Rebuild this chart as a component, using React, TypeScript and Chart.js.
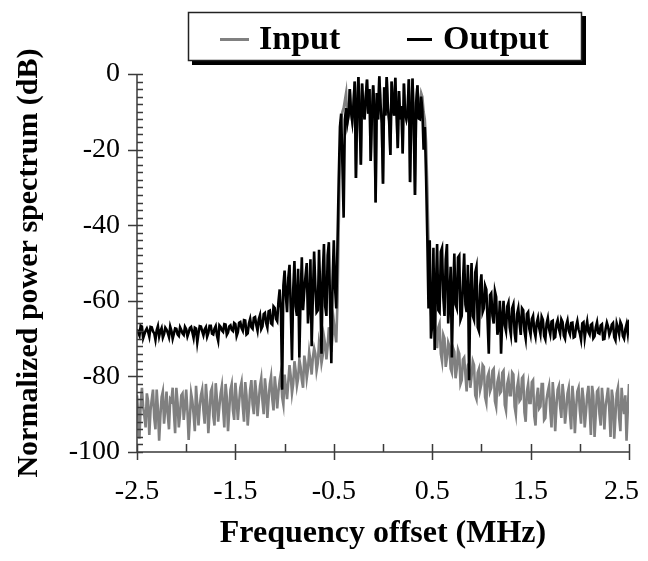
import React, { useEffect, useRef } from "react";
import { Chart, registerables } from "chart.js";

Chart.register(...registerables);

const FONT = "'Liberation Serif', 'Times New Roman', serif";

const freqMHz = [
  -2.5, -2.4875, -2.475, -2.4625, -2.45, -2.4375, -2.425, -2.4125, -2.4, -2.3875, -2.375, -2.3625, -2.35, -2.3375, -2.325, -2.3125, -2.3, -2.2875, -2.275, -2.2625,
  -2.25, -2.2375, -2.225, -2.2125, -2.2, -2.1875, -2.175, -2.1625, -2.15, -2.1375, -2.125, -2.1125, -2.1, -2.0875, -2.075, -2.0625, -2.05, -2.0375, -2.025, -2.0125,
  -2, -1.9875, -1.975, -1.9625, -1.95, -1.9375, -1.925, -1.9125, -1.9, -1.8875, -1.875, -1.8625, -1.85, -1.8375, -1.825, -1.8125, -1.8, -1.7875, -1.775, -1.7625,
  -1.75, -1.7375, -1.725, -1.7125, -1.7, -1.6875, -1.675, -1.6625, -1.65, -1.6375, -1.625, -1.6125, -1.6, -1.5875, -1.575, -1.5625, -1.55, -1.5375, -1.525, -1.5125,
  -1.5, -1.4875, -1.475, -1.4625, -1.45, -1.4375, -1.425, -1.4125, -1.4, -1.3875, -1.375, -1.3625, -1.35, -1.3375, -1.325, -1.3125, -1.3, -1.2875, -1.275, -1.2625,
  -1.25, -1.2375, -1.225, -1.2125, -1.2, -1.1875, -1.175, -1.1625, -1.15, -1.1375, -1.125, -1.1125, -1.1, -1.0875, -1.075, -1.0625, -1.05, -1.0375, -1.025, -1.0125,
  -1, -0.9875, -0.975, -0.9625, -0.95, -0.9375, -0.925, -0.9125, -0.9, -0.8875, -0.875, -0.8625, -0.85, -0.8375, -0.825, -0.8125, -0.8, -0.7875, -0.775, -0.7625,
  -0.75, -0.7375, -0.725, -0.7125, -0.7, -0.6875, -0.675, -0.6625, -0.65, -0.6375, -0.625, -0.6125, -0.6, -0.5875, -0.575, -0.5625, -0.55, -0.5375, -0.525, -0.5125,
  -0.5, -0.4875, -0.475, -0.4625, -0.45, -0.4375, -0.425, -0.4125, -0.4, -0.3875, -0.375, -0.3625, -0.35, -0.3375, -0.325, -0.3125, -0.3, -0.2875, -0.275, -0.2625,
  -0.25, -0.2375, -0.225, -0.2125, -0.2, -0.1875, -0.175, -0.1625, -0.15, -0.1375, -0.125, -0.1125, -0.1, -0.0875, -0.075, -0.0625, -0.05, -0.0375, -0.025, -0.0125,
  0, 0.0125, 0.025, 0.0375, 0.05, 0.0625, 0.075, 0.0875, 0.1, 0.1125, 0.125, 0.1375, 0.15, 0.1625, 0.175, 0.1875, 0.2, 0.2125, 0.225, 0.2375,
  0.25, 0.2625, 0.275, 0.2875, 0.3, 0.3125, 0.325, 0.3375, 0.35, 0.3625, 0.375, 0.3875, 0.4, 0.4125, 0.425, 0.4375, 0.45, 0.4625, 0.475, 0.4875,
  0.5, 0.5125, 0.525, 0.5375, 0.55, 0.5625, 0.575, 0.5875, 0.6, 0.6125, 0.625, 0.6375, 0.65, 0.6625, 0.675, 0.6875, 0.7, 0.7125, 0.725, 0.7375,
  0.75, 0.7625, 0.775, 0.7875, 0.8, 0.8125, 0.825, 0.8375, 0.85, 0.8625, 0.875, 0.8875, 0.9, 0.9125, 0.925, 0.9375, 0.95, 0.9625, 0.975, 0.9875,
  1, 1.0125, 1.025, 1.0375, 1.05, 1.0625, 1.075, 1.0875, 1.1, 1.1125, 1.125, 1.1375, 1.15, 1.1625, 1.175, 1.1875, 1.2, 1.2125, 1.225, 1.2375,
  1.25, 1.2625, 1.275, 1.2875, 1.3, 1.3125, 1.325, 1.3375, 1.35, 1.3625, 1.375, 1.3875, 1.4, 1.4125, 1.425, 1.4375, 1.45, 1.4625, 1.475, 1.4875,
  1.5, 1.5125, 1.525, 1.5375, 1.55, 1.5625, 1.575, 1.5875, 1.6, 1.6125, 1.625, 1.6375, 1.65, 1.6625, 1.675, 1.6875, 1.7, 1.7125, 1.725, 1.7375,
  1.75, 1.7625, 1.775, 1.7875, 1.8, 1.8125, 1.825, 1.8375, 1.85, 1.8625, 1.875, 1.8875, 1.9, 1.9125, 1.925, 1.9375, 1.95, 1.9625, 1.975, 1.9875,
  2, 2.0125, 2.025, 2.0375, 2.05, 2.0625, 2.075, 2.0875, 2.1, 2.1125, 2.125, 2.1375, 2.15, 2.1625, 2.175, 2.1875, 2.2, 2.2125, 2.225, 2.2375,
  2.25, 2.2625, 2.275, 2.2875, 2.3, 2.3125, 2.325, 2.3375, 2.35, 2.3625, 2.375, 2.3875, 2.4, 2.4125, 2.425, 2.4375, 2.45, 2.4625, 2.475, 2.4875,
  2.5,
];

const inputDb = [
  -85.0, -90.0, -96.5, -87.5, -83.0, -88.0, -90.5, -93.5, -84.5, -86.5, -95.5, -89.0, -86.0, -83.5, -91.0, -94.0, -83.5, -88.5, -97.0, -90.5,
  -85.5, -84.0, -92.5, -88.5, -84.0, -90.0, -94.0, -86.0, -86.5, -83.0, -89.5, -95.0, -83.0, -87.0, -93.5, -90.0, -85.0, -84.5, -91.5, -88.0,
  -83.5, -89.0, -96.8, -91.0, -84.5, -86.5, -90.0, -94.5, -82.5, -87.5, -93.0, -88.0, -85.0, -83.5, -89.0, -92.5, -82.0, -86.5, -95.0, -89.5,
  -84.0, -83.0, -90.5, -93.0, -81.8, -86.0, -92.0, -88.0, -84.5, -82.5, -88.5, -93.5, -82.0, -85.5, -94.5, -89.0, -83.5, -82.0, -89.0, -91.5,
  -81.7, -86.0, -91.5, -87.0, -83.0, -81.5, -88.0, -92.0, -81.5, -85.0, -93.0, -88.5, -83.5, -81.0, -87.5, -90.0, -81.0, -84.5, -90.5, -86.5,
  -82.5, -80.5, -86.5, -90.0, -80.5, -84.0, -91.0, -86.0, -82.0, -80.0, -86.0, -89.0, -80.0, -83.5, -88.5, -84.0, -81.0, -79.0, -85.5, -87.5,
  -79.5, -83.0, -86.0, -81.5, -77.0, -80.0, -84.5, -82.0, -76.0, -78.5, -82.5, -80.5, -75.5, -77.5, -81.0, -83.0, -74.5, -76.5, -80.5, -78.0,
  -73.5, -76.0, -79.5, -75.0, -72.5, -74.0, -78.5, -76.5, -71.0, -73.0, -76.5, -74.5, -69.5, -71.5, -75.5, -72.0, -67.0, -70.0, -73.5, -69.0,
  -65.5, -68.5, -71.0, -60.0, -40.0, -22.0, -12.0, -10.0, -9.0, -7.0, -5.0, -13.0, -11.0, -4.0, -10.0, -12.5, -8.0, -2.0, -27.5, -9.0,
  -0.8, -11.5, -24.0, -2.5, -9.0, -12.0, -6.0, -1.5, -10.5, -4.0, -23.0, -11.0, -3.0, -9.5, -34.0, -5.0, -12.0, -0.6, -8.0, -13.0,
  -29.0, -3.5, -11.0, -0.8, -9.0, -12.5, -21.4, -2.0, -8.5, -11.0, -1.0, -10.0, -19.6, -4.5, -12.0, -8.5, -21.0, -2.5, -10.5, -12.0,
  -10.0, -1.4, -28.6, -11.0, -1.2, -13.0, -32.0, -7.5, -3.0, -11.8, -8.0, -5.0, -6.0, -10.0, -12.0, -18.0, -30.0, -45.0, -56.0, -63.0,
  -68.0, -64.0, -62.0, -70.0, -72.5, -67.0, -66.0, -74.0, -76.0, -69.0, -70.0, -77.5, -75.0, -71.0, -72.0, -78.0, -79.0, -72.5, -73.5, -80.5,
  -78.0, -73.0, -74.0, -82.0, -81.0, -75.5, -75.0, -79.5, -84.0, -77.0, -76.5, -83.0, -80.0, -76.0, -77.0, -85.0, -86.0, -79.0, -78.0, -83.5,
  -82.0, -77.0, -77.5, -85.5, -87.0, -80.0, -79.0, -84.0, -83.0, -78.5, -78.0, -86.5, -88.0, -81.5, -80.0, -84.5, -84.0, -79.0, -78.5, -87.5,
  -89.0, -82.0, -80.5, -85.0, -85.0, -79.0, -79.5, -88.0, -90.0, -83.0, -81.0, -86.5, -86.0, -80.5, -80.0, -89.5, -92.0, -84.0, -82.0, -87.0,
  -87.0, -81.5, -81.0, -90.5, -93.0, -85.5, -83.0, -88.5, -88.0, -82.0, -82.0, -91.5, -91.0, -86.0, -84.0, -82.5, -89.0, -93.5, -81.5, -86.0,
  -94.5, -88.0, -83.5, -82.5, -88.0, -91.0, -82.0, -85.5, -92.5, -89.0, -84.5, -83.0, -90.0, -94.0, -82.5, -86.5, -95.0, -88.5, -84.0, -83.0,
  -89.0, -92.5, -83.0, -86.0, -93.5, -89.5, -85.0, -82.5, -88.5, -95.5, -82.5, -85.0, -96.0, -90.0, -84.0, -83.5, -90.0, -93.0, -83.0, -87.0,
  -94.0, -88.0, -85.5, -83.0, -89.0, -96.0, -83.5, -86.0, -96.5, -90.5, -84.5, -83.0, -91.0, -94.5, -83.0, -87.5, -90.0, -85.0, -97.0, -89.0,
  -82.0,
];

const outputDb = [
  -67.5, -68.4, -69.2, -66.6, -66.8, -69.9, -68.9, -67.9, -67.3, -68.2, -69.5, -66.9, -67.0, -68.1, -68.6, -70.3, -67.8, -66.7, -69.4, -68.0,
  -67.2, -69.7, -68.8, -67.1, -67.6, -68.5, -69.6, -66.8, -67.9, -70.0, -68.7, -67.3, -67.4, -68.9, -69.3, -67.0, -67.7, -68.6, -69.0, -66.9,
  -67.5, -69.4, -68.4, -67.2, -66.9, -68.3, -69.8, -67.1, -67.3, -71.0, -68.6, -66.7, -66.8, -68.0, -69.1, -67.6, -67.0, -69.5, -68.5, -66.6,
  -66.6, -68.7, -68.9, -67.4, -66.7, -69.2, -70.6, -66.5, -66.9, -67.8, -68.2, -66.2, -66.3, -69.0, -68.4, -66.8, -66.5, -67.7, -68.0, -65.9,
  -66.2, -69.3, -68.3, -65.8, -65.6, -67.2, -67.9, -65.1, -65.2, -68.9, -68.6, -66.0, -64.8, -67.0, -67.4, -64.5, -64.3, -66.4, -67.9, -64.9,
  -63.8, -67.5, -66.8, -63.5, -63.2, -65.9, -67.1, -62.8, -62.6, -66.0, -66.3, -61.5, -61.9, -64.8, -65.4, -60.2, -57.0, -62.0, -83.5, -56.0,
  -52.0, -58.5, -63.0, -54.0, -50.5, -62.0, -75.7, -57.0, -49.5, -61.5, -64.0, -51.5, -75.0, -59.0, -48.5, -62.5, -57.5, -53.5, -50.0, -66.0,
  -61.0, -49.0, -72.0, -58.5, -47.0, -56.0, -63.0, -62.5, -46.5, -57.5, -74.0, -53.0, -45.0, -61.5, -64.0, -48.0, -44.5, -62.0, -76.5, -55.0,
  -44.0, -56.5, -62.0, -45.0, -28.0, -14.0, -10.5, -24.0, -38.0, -12.0, -9.0, -13.0, -11.0, -4.0, -10.0, -12.5, -8.0, -2.0, -27.5, -9.0,
  -0.8, -11.5, -24.0, -2.5, -9.0, -12.0, -6.0, -1.5, -10.5, -4.0, -23.0, -11.0, -3.0, -9.5, -34.0, -5.0, -12.0, -0.6, -8.0, -13.0,
  -29.0, -3.5, -11.0, -0.8, -9.0, -12.5, -21.4, -2.0, -8.5, -11.0, -1.0, -10.0, -19.6, -4.5, -12.0, -8.5, -21.0, -2.5, -10.5, -12.0,
  -10.0, -1.4, -28.6, -11.0, -1.2, -13.0, -32.0, -7.5, -3.0, -11.8, -12.0, -6.0, -9.5, -20.0, -14.0, -27.0, -43.0, -62.0, -44.0, -70.0,
  -66.0, -46.0, -73.0, -57.0, -45.0, -62.5, -63.0, -47.0, -46.0, -59.0, -64.0, -49.0, -45.0, -66.0, -60.0, -51.0, -75.0, -58.0, -47.5, -61.0,
  -62.0, -48.5, -48.0, -65.0, -64.0, -55.0, -47.5, -61.0, -63.0, -50.5, -81.0, -58.0, -50.0, -64.0, -65.0, -52.5, -51.0, -67.0, -68.0, -56.0,
  -53.0, -63.0, -62.0, -56.0, -57.0, -65.0, -74.0, -58.5, -58.0, -64.0, -66.0, -57.5, -59.0, -69.0, -67.0, -60.0, -74.0, -64.5, -60.0, -66.5,
  -68.0, -61.5, -60.5, -67.0, -69.0, -62.0, -61.0, -68.5, -71.0, -63.5, -62.0, -66.0, -69.0, -62.0, -62.5, -68.0, -70.0, -63.5, -63.0, -67.5,
  -69.0, -64.8, -64.0, -68.0, -69.5, -65.8, -64.5, -67.2, -68.8, -64.2, -65.0, -69.3, -70.2, -66.0, -64.6, -67.5, -68.9, -65.5, -65.3, -69.9,
  -69.6, -66.2, -65.1, -67.4, -68.7, -64.9, -65.6, -69.2, -70.0, -66.4, -65.2, -67.9, -68.8, -65.9, -65.8, -69.7, -69.5, -66.8, -65.4, -67.6,
  -68.6, -70.3, -66.0, -65.7, -69.8, -67.3, -65.5, -68.2, -68.9, -66.4, -66.1, -69.9, -69.4, -67.0, -65.7, -68.5, -68.7, -66.5, -66.2, -70.2,
  -70.1, -67.4, -65.8, -66.9, -69.0, -68.1, -66.3, -65.9, -69.6, -70.4, -66.0, -67.2, -68.8, -65.6, -66.4, -69.3, -70.0, -67.5, -66.2, -68.6,
  -65.0,
];

const seriesNames = ["Input", "Output"];
const seriesColors = ["#808080", "#000000"];
const xTickValues = [-2.5, -1.5, -0.5, 0.5, 1.5, 2.5];
const xMinorTickValues = [-2, -1, 0, 1, 2];
const yTickValues = [0, -20, -40, -60, -80, -100];
const xTitle = "Frequency offset (MHz)";
const yTitle = "Normalized power spectrum (dB)";

export default function App() {
  const canvasRef = useRef<HTMLCanvasElement>(null);

  useEffect(() => {
    const canvas = canvasRef.current;
    if (!canvas) return;

    const axesPlugin = {
      id: "customAxes",
      afterDatasetsDraw(chart: any) {
        const { ctx, chartArea, scales } = chart;
        const xs = scales.x;
        const ys = scales.y;
        const L = chartArea.left;
        const B = chartArea.bottom;
        ctx.save();
        ctx.strokeStyle = "#3a3a3a";
        ctx.lineWidth = 1.5;
        ctx.beginPath();
        ctx.moveTo(L, chartArea.top);
        ctx.lineTo(L, B);
        ctx.lineTo(chartArea.right, B);
        for (let v = 0; v >= -100; v -= 2) {
          const py = Math.round(ys.getPixelForValue(v)) + 0.5;
          ctx.moveTo(L, py);
          ctx.lineTo(L + 6, py);
        }
        for (const v of yTickValues) {
          const py = Math.round(ys.getPixelForValue(v)) + 0.5;
          ctx.moveTo(L - 9, py);
          ctx.lineTo(L, py);
        }
        for (const v of xTickValues) {
          const px = Math.round(xs.getPixelForValue(v)) + 0.5;
          ctx.moveTo(px, B - 8);
          ctx.lineTo(px, B + 8);
        }
        for (const v of xMinorTickValues) {
          const px = Math.round(xs.getPixelForValue(v)) + 0.5;
          ctx.moveTo(px, B - 8);
          ctx.lineTo(px, B);
        }
        ctx.stroke();
        // x tick labels; keep the last one inside the visible canvas
        ctx.fillStyle = "#000";
        ctx.font = `28px ${FONT}`;
        ctx.textAlign = "center";
        ctx.textBaseline = "alphabetic";
        for (const v of xTickValues) {
          const label = String(v);
          const w = ctx.measureText(label).width;
          let cx = xs.getPixelForValue(v);
          if (cx + w / 2 > chart.width - 1) cx = chart.width - 1 - w / 2;
          ctx.fillText(label, cx, B + 47);
        }
        ctx.restore();
      },
    };

    const legendPlugin = {
      id: "boxLegend",
      afterDraw(chart: any) {
        const ctx = chart.ctx;
        const bx = 180, by = 4, bw = 394, bh = 49;
        ctx.save();
        ctx.fillStyle = "#000";
        ctx.fillRect(bx + 4, by + 4, bw, bh);
        ctx.fillStyle = "#fff";
        ctx.fillRect(bx, by, bw, bh);
        ctx.strokeStyle = "#222";
        ctx.lineWidth = 1.5;
        ctx.strokeRect(bx + 0.5, by + 0.5, bw - 1, bh - 1);
        ctx.font = `bold 34px ${FONT}`;
        ctx.textBaseline = "alphabetic";
        const items = [
          { lx: 212, lw: 29, tx: 251 },
          { lx: 399, lw: 25, tx: 435 },
        ];
        chart.data.datasets.forEach((ds: any, i: number) => {
          const it = items[i];
          ctx.strokeStyle = ds.borderColor;
          ctx.lineWidth = 3;
          ctx.beginPath();
          ctx.moveTo(it.lx, 31.5);
          ctx.lineTo(it.lx + it.lw, 31.5);
          ctx.stroke();
          ctx.fillStyle = "#000";
          ctx.fillText(ds.label, it.tx, 41);
        });
        ctx.restore();
      },
    };

    const chart = new Chart(canvas, {
      type: "line",
      data: {
        datasets: [
          {
            label: seriesNames[0],
            data: freqMHz.map((f, i) => ({ x: f, y: inputDb[i] })),
            borderColor: seriesColors[0],
            backgroundColor: seriesColors[0],
            borderWidth: 2.6,
            pointRadius: 0,
            tension: 0,
            order: 2,
          },
          {
            label: seriesNames[1],
            data: freqMHz.map((f, i) => ({ x: f, y: outputDb[i] })),
            borderColor: seriesColors[1],
            backgroundColor: seriesColors[1],
            borderWidth: 2.6,
            pointRadius: 0,
            tension: 0,
            order: 1,
          },
        ],
      },
      options: {
        animation: false,
        responsive: false,
        devicePixelRatio: 1,
        layout: { padding: { top: 66, right: 11, left: 0, bottom: 0 } },
        plugins: {
          legend: { display: false },
          tooltip: { enabled: false },
        },
        scales: {
          x: {
            type: "linear",
            min: -2.5,
            max: 2.5,
            grid: { display: false, drawTicks: false },
            border: { display: false },
            afterBuildTicks: (scale: any) => {
              scale.ticks = xTickValues.map((v) => ({ value: v }));
            },
            afterFit: (scale: any) => {
              scale.height = 101;
              scale.paddingLeft = 0;
              scale.paddingRight = 0;
            },
            ticks: { display: false },
            title: {
              display: true,
              text: xTitle,
              color: "#000",
              font: { family: FONT, size: 32, weight: "bold" },
              padding: { top: 0, bottom: 0 },
            },
          },
          y: {
            type: "linear",
            min: -100,
            max: 0,
            grid: { display: false, drawTicks: false },
            border: { display: false },
            afterBuildTicks: (scale: any) => {
              scale.ticks = yTickValues.map((v) => ({ value: v }));
            },
            afterFit: (scale: any) => {
              scale.width = 129;
              scale.paddingTop = 0;
              scale.paddingBottom = 0;
            },
            ticks: {
              color: "#000",
              font: { family: FONT, size: 28 },
              padding: 17,
              autoSkip: false,
              callback: (v: any) => String(v),
            },
            title: {
              display: true,
              text: yTitle,
              color: "#000",
              font: { family: FONT, size: 30, weight: "bold" },
              padding: { top: 3, bottom: 0 },
            },
          },
        },
      },
      plugins: [axesPlugin, legendPlugin],
    });

    return () => chart.destroy();
  }, []);

  return (
    <div style={{ width: 632, height: 545, position: "relative" }}>
      <canvas ref={canvasRef} width={632} height={545} style={{ display: "block" }} />
    </div>
  );
}
